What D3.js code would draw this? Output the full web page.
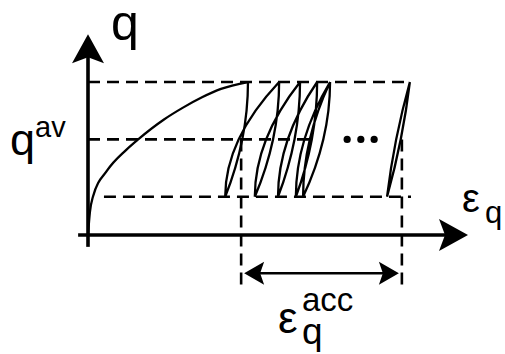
<!DOCTYPE html>
<html>
<head>
<meta charset="utf-8">
<script src="https://cdn.jsdelivr.net/npm/d3@7"></script>
<style>
  html, body { margin: 0; padding: 0; background: #fff; }
  svg { display: block; }
  text { font-family: "Liberation Sans", Arial, Helvetica, sans-serif; fill: #000; }
</style>
</head>
<body>
<svg id="chart" width="505" height="354"></svg>
<script>
// Stress levels of the cyclic test (deviatoric stress q)
const qMin = 1.0;
const qAv = 2.5;
const qMax = 4.0;

// Monotonic loading path up to the first peak (strain, stress)
const monoEps = [0, 0.05, 0.13, 0.5, 1.0, 1.32, 2.0, 2.5, 3.0, 3.5, 4.21];
const monoQ   = [0, 0.6, 1.0, 1.68, 2.22, 2.5, 3.02, 3.33, 3.6, 3.82, 4.0];

// Strain at each load peak (q = qMax) and each unloading trough (q = qMin)
const peakEps   = [4.21, 5.03, 5.58, 6.03, 6.37];
const troughEps = [3.61, 4.39, 5.00, 5.47, 5.66];

// A later, nearly closed cycle: [trough, peak]
const lateCycleEps = [7.87, 8.47];

// Strain interval over which the accumulated strain is measured
const accEps = [4.03, 8.26];

// Axis extents
const xAxisExtent = [-0.26, 10];
const yAxisExtent = [-0.31, 5.25];

const svg = d3.select("#chart");
const x = d3.scaleLinear().domain([0, 10]).range([88, 468]);
const y = d3.scaleLinear().domain([0, 4]).range([235, 82]);

const dash = "12,7";
const gGuides = svg.append("g")
  .attr("stroke", "#000").attr("stroke-width", 2.6)
  .attr("stroke-dasharray", dash).attr("fill", "none");

// horizontal guide lines at qMax, qAv, qMin
gGuides.append("line").attr("x1", x(0)).attr("x2", x(8.5)).attr("y1", y(qMax)).attr("y2", y(qMax));
gGuides.append("line").attr("x1", x(0)).attr("x2", x(5.95)).attr("y1", y(qAv)).attr("y2", y(qAv));
gGuides.append("line").attr("x1", x(0.42)).attr("x2", x(8.5)).attr("y1", y(qMin)).attr("y2", y(qMin));

// vertical guides bounding the accumulated strain
accEps.forEach(e => {
  gGuides.append("line").attr("x1", x(e)).attr("x2", x(e))
    .attr("y1", y(qAv)).attr("y2", y(-1.31));
});

// axes
const gAxes = svg.append("g").attr("stroke", "#000").attr("stroke-width", 3.6);
gAxes.append("line").attr("x1", x(xAxisExtent[0])).attr("x2", x(xAxisExtent[1]) - 20)
  .attr("y1", y(0)).attr("y2", y(0));
gAxes.append("line").attr("x1", x(0)).attr("x2", x(0))
  .attr("y1", y(yAxisExtent[0])).attr("y2", y(yAxisExtent[1]) + 20);

// arrowhead pointing along +x with its tip at the origin of the local frame
function arrowHead(len, half, notch) {
  return `M0,0 L${-len},${-half} L${-len + notch},0 L${-len},${half} Z`;
}
svg.append("path").attr("d", arrowHead(29, 16, 6))
  .attr("transform", `translate(${x(xAxisExtent[1])},${y(0)})`);
svg.append("path").attr("d", arrowHead(29, 16, 6))
  .attr("transform", `translate(${x(0)},${y(yAxisExtent[1])}) rotate(-90)`);

// monotonic path
const line = d3.line().x(d => x(d[0])).y(d => y(d[1])).curve(d3.curveMonotoneX);
svg.append("path")
  .attr("d", line(monoEps.map((e, i) => [e, monoQ[i]])))
  .attr("fill", "none").attr("stroke", "#000").attr("stroke-width", 2.3);

// cyclic branches: unloading leaves a peak vertically, reloading leaves a trough vertically
const loops = d3.path();
function branch(p, e0, q0, e1, q1, bend) {
  const qm = (q0 + q1) / 2;
  const ec = e0 + bend * (e1 - e0);
  p.moveTo(x(e0), y(q0));
  p.quadraticCurveTo(x(ec), y(qm), x(e1), y(q1));
}
peakEps.forEach((pe, i) => {
  branch(loops, pe, qMax, troughEps[i], qMin, 0);
  const next = i + 1 < peakEps.length ? peakEps[i + 1] : pe;
  branch(loops, troughEps[i], qMin, next, qMax, 0);
});
branch(loops, lateCycleEps[1], qMax, lateCycleEps[0], qMin, 0.3);
branch(loops, lateCycleEps[0], qMin, lateCycleEps[1], qMax, 0.3);
svg.append("path").attr("d", loops.toString())
  .attr("fill", "none").attr("stroke", "#000").attr("stroke-width", 2.3)
  .attr("stroke-linejoin", "round");

// ellipsis between the first cycles and the later one
const dotEps = [6.82, 7.18, 7.53];
svg.selectAll("circle.dot").data(dotEps).join("circle")
  .attr("class", "dot").attr("cx", d => x(d)).attr("cy", y(qAv)).attr("r", 3.6);

// double arrow for accumulated strain
const yAcc = y(-1.0);
svg.append("line").attr("x1", x(accEps[0]) + 10).attr("x2", x(accEps[1]) - 10)
  .attr("y1", yAcc).attr("y2", yAcc).attr("stroke", "#000").attr("stroke-width", 2.7);
svg.append("path").attr("d", arrowHead(20, 11.5, 4))
  .attr("transform", `translate(${x(accEps[1]) - 3},${yAcc})`);
svg.append("path").attr("d", arrowHead(20, 11.5, 4))
  .attr("transform", `translate(${x(accEps[0]) + 3},${yAcc}) rotate(180)`);

// labels
svg.append("text").attr("x", 111).attr("y", 40).attr("font-size", 50).text("q");

const tAv = svg.append("text").attr("x", 10).attr("y", 155);
tAv.append("tspan").attr("font-size", 45).text("q");
tAv.append("tspan").attr("font-size", 29).attr("dy", -18).text("av");

svg.append("text").attr("x", 462).attr("y", 212).attr("font-size", 40).text("ε");
svg.append("text").attr("x", 485).attr("y", 223).attr("font-size", 31).text("q");

svg.append("text").attr("x", 278).attr("y", 333).attr("font-size", 44).text("ε");
svg.append("text").attr("x", 302).attr("y", 344).attr("font-size", 37).text("q");
svg.append("text").attr("x", 302).attr("y", 311).attr("font-size", 33).text("acc");
</script>
</body>
</html>
